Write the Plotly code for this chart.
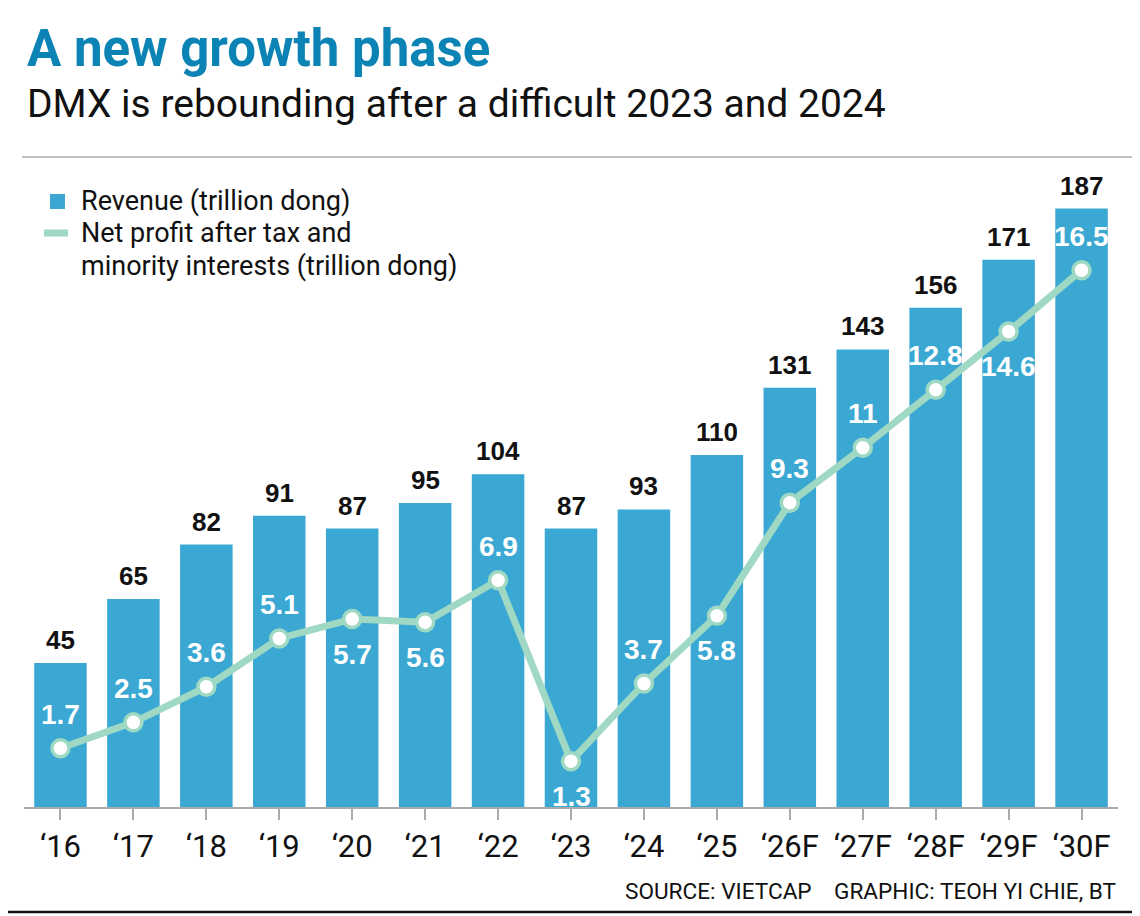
import plotly.graph_objects as go

years = ["‘16", "‘17", "‘18", "‘19", "‘20", "‘21", "‘22", "‘23", "‘24", "‘25",
         "‘26F", "‘27F", "‘28F", "‘29F", "‘30F"]
revenue = [45, 65, 82, 91, 87, 95, 104, 87, 93, 110, 131, 143, 156, 171, 187]
profit = [1.7, 2.5, 3.6, 5.1, 5.7, 5.6, 6.9, 1.3, 3.7, 5.8, 9.3, 11, 12.8, 14.6, 16.5]
profit_labels = ["1.7", "2.5", "3.6", "5.1", "5.7", "5.6", "6.9", "1.3", "3.7", "5.8",
                 "9.3", "11", "12.8", "14.6", "16.5"]
label_side = ["up", "up", "up", "up", "down", "down", "up", "down", "up", "down",
              "up", "up", "up", "down", "up"]

OFF = 8  # page body margin
W, H = 1140 - OFF, 916 - OFF
# plot area in reference page pixels: x 24..1118, y 170..807
L = 24 - OFF
R = 1140 - 1118
T = 170 - OFF
B = 916 - 807
plot_h = H - T - B

BAR = "#3ba8d3"
MINT = "#9fd8c3"
TITLE = "#0b83b5"
FONT = "Roboto"

fig = go.Figure()
fig.add_trace(go.Bar(x=years, y=revenue, marker=dict(color=BAR, line=dict(width=0)),
                     name="Revenue (trillion dong)", yaxis="y", hoverinfo="skip"))
fig.add_trace(go.Scatter(x=years, y=profit, yaxis="y2", mode="lines+markers",
                         line=dict(color=MINT, width=7),
                         marker=dict(size=17, color="white", line=dict(color=MINT, width=3.5)),
                         name="Net profit", hoverinfo="skip", cliponaxis=False))

annotations = []
for x, v in zip(years, revenue):
    annotations.append(dict(x=x, y=v, xref="x", yref="y", text=f"<b>{v}</b>",
                            showarrow=False, yanchor="bottom", yshift=6,
                            font=dict(family="Liberation Sans", size=26, color="#111111")))
for x, v, t, s in zip(years, profit, profit_labels, label_side):
    annotations.append(dict(x=x, y=v, xref="x", yref="y2", text=f"<b>{t}</b>",
                            showarrow=False, yanchor="middle",
                            yshift=(34 if s == "up" else -35),
                            font=dict(family="Liberation Sans", size=28, color="white")))

def px(xr):
    return (xr - OFF - L) / (W - L - R)

def py(yr):
    return (H - B - (yr - OFF)) / plot_h

annotations += [
    dict(x=px(25), y=py(49), xref="paper", yref="paper", xanchor="left", yanchor="middle",
         text="<b>A new growth phase</b>", showarrow=False,
         font=dict(family=FONT, size=51, color=TITLE)),
    dict(x=px(25), y=py(104), xref="paper", yref="paper", xanchor="left", yanchor="middle",
         text="DMX is rebounding after a difficult 2023 and 2024", showarrow=False,
         font=dict(family=FONT, size=39, color="#111111")),
    dict(x=px(79), y=py(201), xref="paper", yref="paper", xanchor="left", yanchor="middle",
         text="Revenue (trillion dong)", showarrow=False,
         font=dict(family=FONT, size=27, color="#111111")),
    dict(x=px(79), y=py(233), xref="paper", yref="paper", xanchor="left", yanchor="middle",
         text="Net profit after tax and", showarrow=False,
         font=dict(family=FONT, size=27, color="#111111")),
    dict(x=px(79), y=py(266), xref="paper", yref="paper", xanchor="left", yanchor="middle",
         text="minority interests (trillion dong)", showarrow=False,
         font=dict(family=FONT, size=27, color="#111111")),
    dict(x=px(1118), y=py(891), xref="paper", yref="paper", xanchor="right", yanchor="middle",
         text="SOURCE: VIETCAP    GRAPHIC: TEOH YI CHIE, BT", showarrow=False,
         font=dict(family=FONT, size=22.6, color="#111111")),
]

shapes = [
    dict(type="line", xref="paper", yref="paper", x0=px(22), x1=px(1140), y0=py(157), y1=py(157),
         line=dict(color="#aaaaaa", width=1.5)),
    dict(type="line", xref="paper", yref="paper", x0=px(0), x1=px(1140), y0=py(912), y1=py(912),
         line=dict(color="#111111", width=2.5)),
    dict(type="rect", xref="paper", yref="paper", x0=px(50), x1=px(65), y0=py(194), y1=py(209),
         fillcolor=BAR, line=dict(width=0)),
    dict(type="line", xref="paper", yref="paper", x0=px(44), x1=px(68), y0=py(233), y1=py(233),
         line=dict(color=MINT, width=7)),
]

fig.update_layout(
    width=W, height=H,
    margin=dict(l=L, r=R, t=T, b=B),
    paper_bgcolor="white", plot_bgcolor="white",
    showlegend=False, bargap=0.28,
    xaxis=dict(type="category", range=[-0.5, len(years) - 0.5],
               showgrid=False, zeroline=False,
               showline=True, linecolor="#aaaaaa", linewidth=2,
               ticks="outside", ticklen=11, tickcolor="#aaaaaa", tickwidth=1.5,
               tickfont=dict(family=FONT, size=31, color="#111111")),
    yaxis=dict(range=[0, plot_h / 3.2], visible=False, fixedrange=True),
    yaxis2=dict(range=[-0.12, plot_h / 32.3 - 0.12], overlaying="y", visible=False),
    annotations=annotations, shapes=shapes,
)

fig.write_html("out.html")
